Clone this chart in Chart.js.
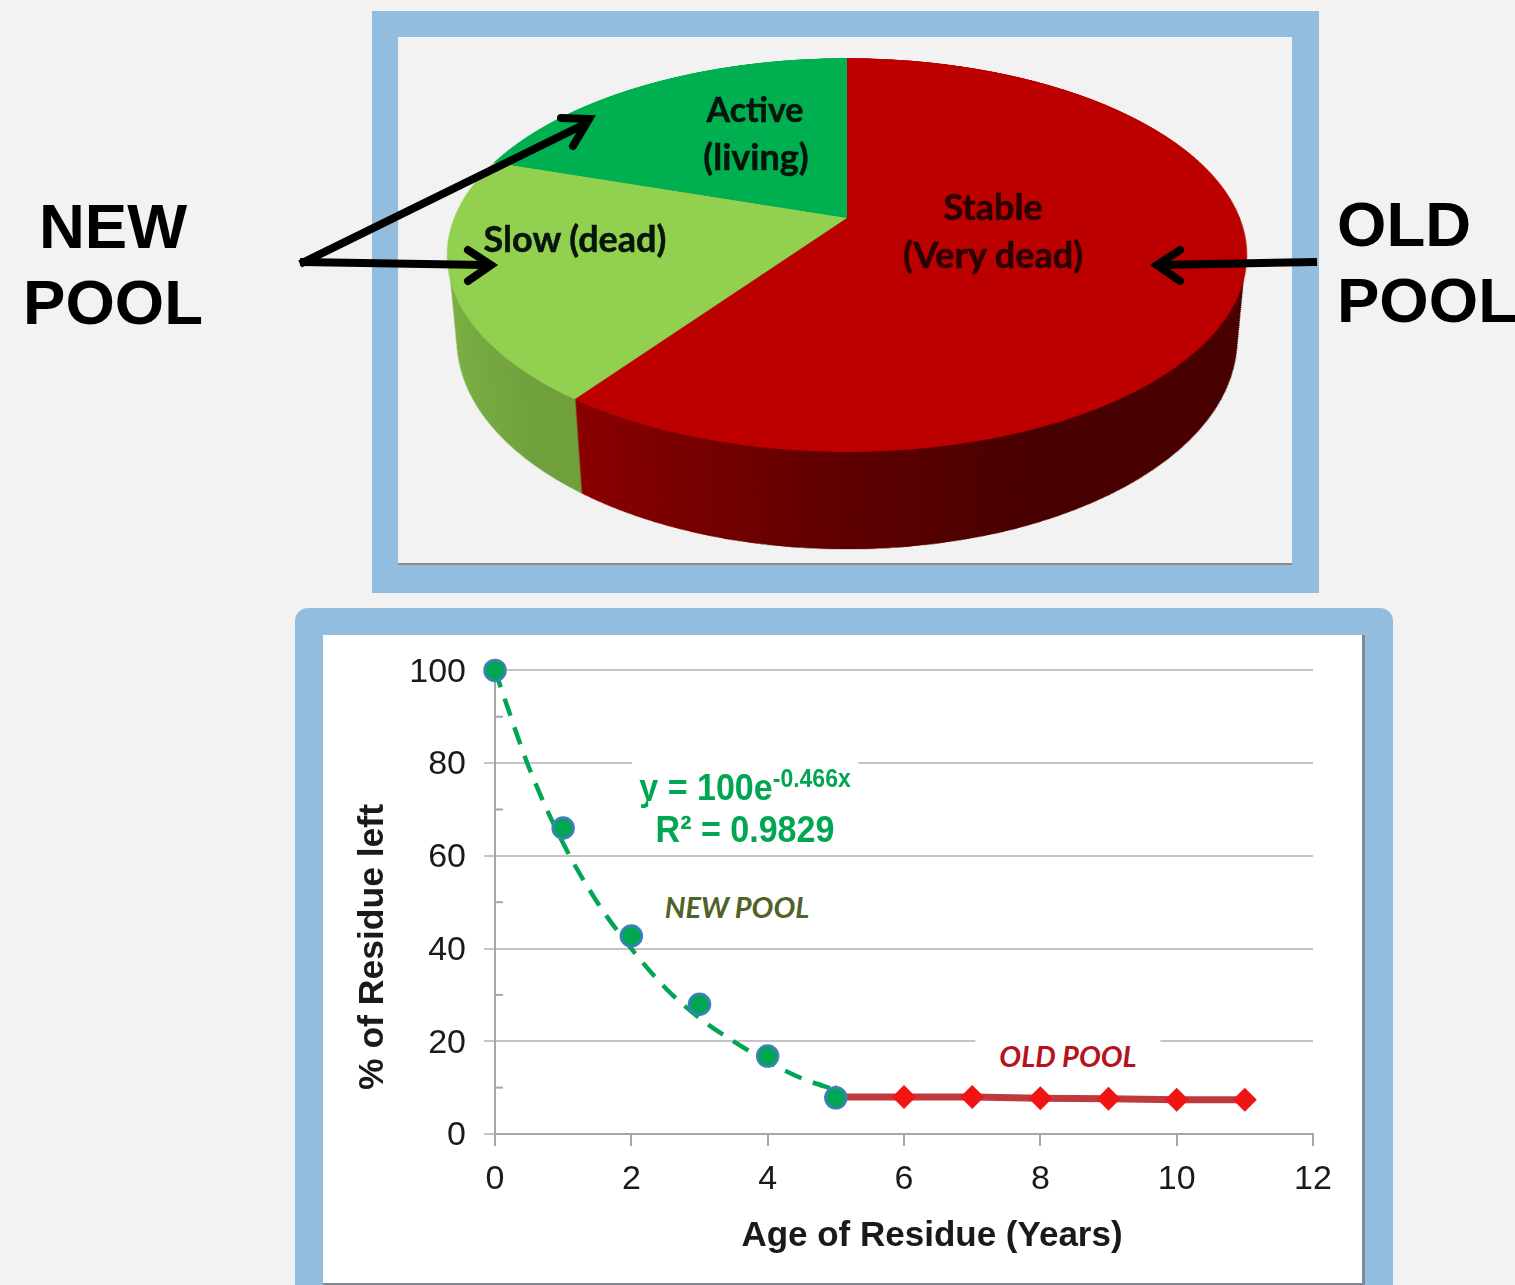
<!DOCTYPE html>
<html>
<head>
<meta charset="utf-8">
<script src="https://cdn.jsdelivr.net/npm/chart.js@4/dist/chart.umd.min.js"></script>
<style>
html, body { margin: 0; padding: 0; width: 1515px; height: 1285px; overflow: hidden; background: #f2f2f2; }
canvas, .box, .txt, svg { position: absolute; }
.frame1 { left: 372px; top: 11px; width: 894px; height: 528px; border: 26px solid #92bddf; border-right-width: 27px; border-bottom-width: 28px; box-shadow: inset 0 -2px 0 #8c8c8c; }
.frame2 { left: 295px; top: 608px; width: 1098px; height: 700px; background: #92bddf; border-radius: 13px; }
.plot { left: 323px; top: 635px; width: 1039px; height: 648px; background: #fff; border-right: 3px solid #7d8a96; border-bottom: 2px solid #7d8a96; }
.soft { left: 0; top: 0; width: 1515px; height: 1285px; filter: blur(0.5px); }
.txt { transform: translate(-50%, -50%); white-space: nowrap; text-align: center; }
.big { font: bold 63.5px "Liberation Sans", Arial, sans-serif; color: #000; }
.pie { font: bold 36px Lato, sans-serif; color: #06140c; -webkit-text-stroke: 0.5px currentColor; }
.axis { font: bold 35px "Liberation Sans", Arial, sans-serif; color: #1a1a1a; }
.eq { font: bold 37px "Liberation Sans", Arial, sans-serif; color: #00a651; background: #fff; box-shadow: 0 -8px 0 #fff; padding: 0 8px; transform: translate(-50%, -50%) scaleX(0.92); }
.tag { font: italic bold 29px Lato, sans-serif; background: #fff; padding: 0 24px; }
sup { font-size: 25px; line-height: 0; }
</style>
</head>
<body>
<div class="box frame1"></div>
<div class="box frame2"></div>
<div class="box plot"></div>

<div class="box soft">
<canvas id="pieSide" width="1000" height="1000" style="left:347px;top:-199px;transform-origin:500px 500px;transform:matrix3d(1,0,0,0, 0,0.5264,0,-0.0004903, 0,0,1,0, 0,0,0,1)"></canvas>
<canvas id="pieTop" width="800" height="800" style="left:447px;top:-182px;transform-origin:400px 400px;transform:matrix3d(1,0,0,0, 0,0.4835,0,-0.0004779, 0,0,1,0, 0,0,0,1)"></canvas>
</div>
<canvas id="decay" width="1041" height="653" style="left:323px;top:632px"></canvas>

<div class="txt pie" style="left:755px;top:108px;font-size:34px">Active</div>
<div class="txt pie" style="left:756px;top:156px">(living)</div>
<div class="txt pie" style="left:575px;top:238px">Slow (dead)</div>
<div class="txt pie" style="left:993px;top:206px;color:#2a0000">Stable</div>
<div class="txt pie" style="left:993px;top:254px;color:#2a0000">(Very dead)</div>

<div class="txt big" style="left:113px;top:226px">NEW</div>
<div class="txt big" style="left:113px;top:302px">POOL</div>
<div class="txt big" style="left:1337px;top:224px;transform:translate(0,-50%)">OLD</div>
<div class="txt big" style="left:1337px;top:300px;transform:translate(0,-50%)">POOL</div>

<svg width="1515" height="1285" style="left:0;top:0" fill="none" stroke="#000" stroke-width="8" stroke-linejoin="miter">
  <path d="M300 264 L585 124"/>
  <path d="M300 262 L486 265"/>
  <path d="M1317 262 L1162 265"/>
  <path d="M561 118 L589 119 L573 146" stroke-linecap="round"/>
  <path d="M468 250 L491 265 L468 281" stroke-linecap="round"/>
  <path d="M1180 250 L1157 265 L1180 281" stroke-linecap="round"/>
</svg>

<div class="txt eq" style="left:745px;top:788px">y = 100e<sup>-0.466x</sup></div>
<div class="txt eq" style="left:745px;top:830px">R² = 0.9829</div>
<div class="txt tag" style="left:737px;top:906px;color:#4f6228">NEW POOL</div>
<div class="txt tag" style="left:1068px;top:1055px;color:#b5121b">OLD POOL</div>
<div class="txt axis" style="left:932px;top:1234px">Age of Residue (Years)</div>
<div class="txt axis" style="left:371px;top:947px;font-size:35.5px;transform:translate(-50%,-50%) rotate(-90deg)">% of Residue left</div>

<script>
var pieLabels = ["Stable (Very dead)", "Slow (dead)", "Active (living)"];
var pieValues = [60, 20, 20];
var pieColors = ["#bc0000", "#92d050", "#00b050"];

var newYears = [0, 1, 2, 3, 4, 5];
var newValues = [100, 66, 42.7, 28, 16.8, 7.8];
var oldYears = [5, 6, 7, 8, 9, 10, 11];
var oldValues = [8, 8, 8, 7.7, 7.6, 7.4, 7.4];
var trendYears = [0, 0.5, 1, 1.5, 2, 2.5, 3, 3.5, 4, 4.5, 5];
var trendValues = [100, 79, 62.7, 50, 40, 31.5, 25, 20, 15.6, 12, 9.5];
var yTicksMinor = [10, 30, 50, 70, 90];

function xy(xs, ys) {
    return xs.map(function(x, i) { return {x: x, y: ys[i]}; });
}

Chart.defaults.animation = false;
Chart.defaults.devicePixelRatio = 1;

// top face of the pie, tilted by the css matrix on the canvas
new Chart(document.getElementById("pieTop"), {
    type: "pie",
    data: {
        labels: pieLabels,
        datasets: [{data: pieValues, backgroundColor: pieColors, borderWidth: 0, radius: 393}]
    },
    options: {
        responsive: false,
        plugins: {legend: {display: false}, tooltip: {enabled: false}}
    }
});

// side wall: same slices stacked upward from the lower disc
var sideCanvas = document.getElementById("pieSide");
var sideCtx = sideCanvas.getContext("2d");
function sideGradient(stops) {
    var g = sideCtx.createLinearGradient(100, 0, 900, 0);
    stops.forEach(function(s) { g.addColorStop(s[0], s[1]); });
    return g;
}
var sideColors = [
    sideGradient([[0, "#9a0000"], [0.167, "#930000"], [0.5, "#5e0000"], [0.69, "#480000"], [1, "#480000"]]),
    sideGradient([[0, "#7fb348"], [0.17, "#70a03c"], [1, "#70a03c"]]),
    sideGradient([[0, "#008040"], [1, "#008040"]])
];
var stackSides = {
    id: "stackSides",
    afterDatasetsDraw: function(chart) {
        var ctx = chart.ctx;
        var arcs = chart.getDatasetMeta(0).data;
        var layers = 180;
        for (var i = 0; i <= layers; i++) {
            var t = i / layers;
            var s = 1 + 0.107 * t;
            ctx.save();
            ctx.translate(500, 500 - 172.6 * t);
            ctx.scale(s, s);
            ctx.translate(-500, -500);
            arcs.forEach(function(a) { a.draw(ctx); });
            ctx.restore();
        }
    }
};
new Chart(sideCanvas, {
    type: "pie",
    data: {
        labels: pieLabels,
        datasets: [{data: pieValues, backgroundColor: sideColors, borderWidth: 0, radius: 383, clip: false}]
    },
    options: {
        responsive: false,
        plugins: {legend: {display: false}, tooltip: {enabled: false}}
    },
    plugins: [stackSides]
});

// short inside ticks on the odd tens of the y axis
var minorTicks = {
    id: "minorTicks",
    beforeDatasetsDraw: function(chart) {
        var ctx = chart.ctx, y = chart.scales.y, left = chart.chartArea.left;
        ctx.save();
        ctx.strokeStyle = "#a6a6a6";
        ctx.lineWidth = 2;
        yTicksMinor.forEach(function(v) {
            var p = y.getPixelForValue(v);
            ctx.beginPath();
            ctx.moveTo(left, p);
            ctx.lineTo(left + 8, p);
            ctx.stroke();
        });
        ctx.restore();
    }
};

var tickFont = {family: "'Liberation Sans', Arial, sans-serif", size: 34};

new Chart(document.getElementById("decay"), {
    type: "line",
    data: {
        datasets: [
            {
                label: "New pool",
                data: xy(newYears, newValues),
                showLine: false,
                order: 1,
                pointRadius: 10.5,
                pointBorderWidth: 2.5,
                pointBackgroundColor: "#00a651",
                pointBorderColor: "#3f7fbf"
            },
            {
                label: "Trend",
                data: xy(trendYears, trendValues),
                order: 2,
                borderColor: "#00a651",
                borderWidth: 4.5,
                borderDash: [18, 12],
                cubicInterpolationMode: "monotone",
                pointRadius: 0
            },
            {
                label: "Old pool",
                data: xy(oldYears, oldValues),
                order: 3,
                borderColor: "#c0393f",
                borderWidth: 7,
                pointStyle: "rectRot",
                pointRadius: 12,
                pointBorderWidth: 0,
                pointBackgroundColor: "#f01414"
            }
        ]
    },
    options: {
        responsive: false,
        layout: {padding: {left: 0, right: 51, top: 38, bottom: 0}},
        clip: false,
        plugins: {legend: {display: false}, tooltip: {enabled: false}},
        scales: {
            x: {
                type: "linear",
                min: 0,
                max: 12,
                ticks: {stepSize: 2, color: "#1a1a1a", font: tickFont, padding: 13, maxRotation: 0},
                grid: {drawOnChartArea: false, color: "#a6a6a6", lineWidth: 2, tickLength: 12},
                border: {color: "#a6a6a6", width: 2},
                afterFit: function(scale) { scale.height = 151; }
            },
            y: {
                min: 0,
                max: 100,
                ticks: {
                    stepSize: 20,
                    color: "#1a1a1a",
                    font: tickFont,
                    padding: 18,
                    labelOffset: 2
                },
                grid: {color: "#c4c4c4", lineWidth: 2, tickLength: 11},
                border: {color: "#a6a6a6", width: 2},
                afterFit: function(scale) { scale.width = 172; }
            }
        }
    },
    plugins: [minorTicks]
});
</script>
</body>
</html>
